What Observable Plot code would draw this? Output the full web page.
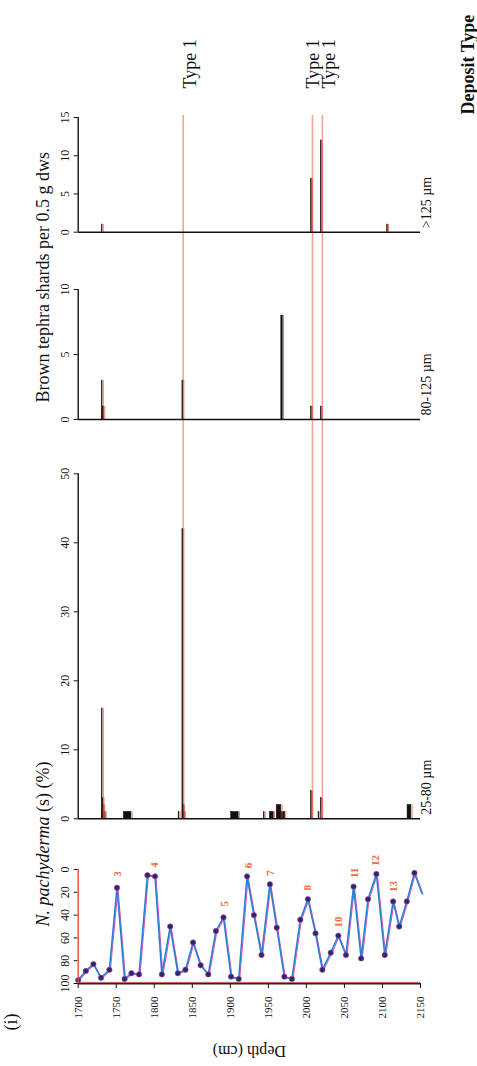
<!DOCTYPE html>
<html>
<head>
<meta charset="utf-8">
<script src="https://cdn.jsdelivr.net/npm/d3@7"></script>
<script src="https://cdn.jsdelivr.net/npm/@observablehq/plot@0.6"></script>
<style>
  body { margin: 0; background: #fff; }
  #chart { position: relative; width: 477px; height: 1066px; overflow: hidden; background: #fff; }
</style>
</head>
<body>
<div id="chart"></div>
<script>
// ---------- data ----------
const depthDomain = [1700, 2150];
const depthTicks = [1700, 1750, 1800, 1850, 1900, 1950, 2000, 2050, 2100, 2150];

// N. pachyderma (s) %
const npDepth = [1700,1710,1720,1730,1741,1751,1761,1770,1780,1791,1801,1810,1821,1831,1841,1851,1861,1871,1881,1891,1901,1911,1922,1931,1941,1952,1961,1971,1981,1992,2002,2012,2021,2032,2042,2052,2062,2072,2081,2092,2103,2114,2122,2132,2142,2152];
const npPct = [97,89,83,95,88,16,96,91,92,5,6,92,50,91,88,64,84,92,54,42,94,96,6,40,75,13,51,94,96,44,26,56,88,73,58,75,15,78,26,4,75,28,50,28,3,21];
const npTicks = [0, 20, 40, 60, 80, 100];

// numbered peaks
const peakNums = ["3","4","5","6","7","8","10","11","12","13"];
const peakDepth = [1752,1800,1892,1924,1953,2002,2042,2063,2091,2114];
const peakPct = [4,-4,30,-3.5,3,16,46,3,-8,15];

// brown tephra shards per 0.5 g dws
const shards25 = [
  {from:1731, to:1732, n:16}, {from:1732, to:1733, n:3}, {from:1733, to:1734, n:2},
  {from:1734, to:1736, n:1}, {from:1760, to:1770, n:1}, {from:1832, to:1833, n:1},
  {from:1837, to:1838, n:42}, {from:1838, to:1839, n:2}, {from:1839, to:1840, n:1},
  {from:1901, to:1911, n:1}, {from:1944, to:1945, n:1}, {from:1952, to:1957, n:1},
  {from:1961, to:1967, n:2}, {from:1967, to:1972, n:1}, {from:2006, to:2007, n:4},
  {from:2016, to:2017, n:1}, {from:2019, to:2020, n:3}, {from:2133, to:2138, n:2}
];
const shards80 = [
  {from:1731, to:1732, n:3}, {from:1732, to:1734, n:1}, {from:1837, to:1838, n:3},
  {from:1967, to:1969, n:8}, {from:2006, to:2007, n:1}, {from:2019, to:2020, n:1}
];
const shards125 = [
  {from:1731, to:1732, n:1}, {from:2006, to:2007, n:7}, {from:2019, to:2020, n:12},
  {from:2106, to:2107, n:1}
];
const ticks25 = [0, 10, 20, 30, 40, 50];
const ticks80 = [0, 5, 10];
const ticks125 = [0, 5, 10, 15];

// deposit types
const typeDepths = [1838, 2008, 2021];
const typeLabels = ["Type 1", "Type 1", "Type 1"];
const typeLabelDepths = [1838, 2000, 2021];

// ---------- layout ----------
const W = 477, H = 1066, ML = 77.7, MR = 57;
const FONT = "'Liberation Serif', 'DejaVu Serif', serif";
const svgStyle = {position: "absolute", left: "0px", top: "0px", background: "transparent",
  fontFamily: FONT, color: "#111", overflow: "visible"};
const fmt = d => String(d);
const chart = document.getElementById("chart");

// overlay: deposit-type lines, labels, shared title
const overlay = Plot.plot({
  width: W, height: H, marginLeft: ML, marginRight: MR, marginTop: 115, marginBottom: H - 818.3,
  style: svgStyle,
  x: {domain: depthDomain, axis: null},
  marks: [
    Plot.ruleX(typeDepths, {stroke: "#f6a493", strokeWidth: 1.6}),
    Plot.text(typeLabels, {x: typeLabelDepths, text: typeLabels, frameAnchor: "top", dy: -27,
      rotate: -90, textAnchor: "start", fontSize: 18, fill: "#111"}),
    Plot.text(["Deposit Type"], {text: d => d, frameAnchor: "top-right", dx: 41, dy: -1, rotate: -90,
      textAnchor: "start", fontSize: 18, fontWeight: "bold", fill: "#111"}),
    Plot.text(["Brown tephra shards per 0.5 g dws"], {text: d => d, frameAnchor: "left",
      dx: -34.7, dy: -64.6, rotate: -90, fontSize: 18, fill: "#111"})
  ]
});
chart.appendChild(overlay);

function tephraPanel(data, yMax, ticks, top, bottom, label) {
  return Plot.plot({
    width: W, height: H, marginLeft: ML, marginRight: MR, marginTop: top, marginBottom: H - bottom,
    style: svgStyle,
    x: {domain: depthDomain, axis: null, label: null},
    y: {domain: [0, yMax], label: null},
    marks: [
      Plot.axisY({ticks, tickSize: 4, tickRotate: -90, fontSize: 12, label: null, tickFormat: fmt}),
      Plot.rectY(data, {x1: "from", x2: "to", y: "n", fill: "#111", stroke: "#111", strokeWidth: 0.5}),
      Plot.ruleX(data, {x: "to", y1: 0, y2: "n", stroke: "#e4573f", strokeWidth: 0.8, dx: 0.7}),
      Plot.ruleX([depthDomain[0]], {stroke: "#111", strokeWidth: 1.4}),
      Plot.ruleY([0], {stroke: "#111", strokeWidth: 1.4}),
      Plot.text([label], {text: d => d, frameAnchor: "bottom-right", dx: 10, dy: -4, rotate: -90,
        textAnchor: "start", fontSize: 14, fill: "#111"})
    ]
  });
}

chart.appendChild(tephraPanel(shards125, 15, ticks125, 117, 231.7, ">125 µm"));
chart.appendChild(tephraPanel(shards80, 10, ticks80, 289, 419, "80-125 µm"));
chart.appendChild(tephraPanel(shards25, 50, ticks25, 473.3, 818.3, "25-80 µm"));

// N. pachyderma panel
const np = npDepth.map((d, i) => ({depth: d, pct: npPct[i]}));
const peaks = peakNums.map((t, i) => ({t, depth: peakDepth[i], pct: peakPct[i]}));
const npPlot = Plot.plot({
  width: W, height: H, marginLeft: ML, marginRight: MR, marginTop: 869, marginBottom: H - 983,
  style: svgStyle,
  x: {domain: depthDomain, label: null},
  y: {domain: [0, 100], reverse: true, label: null},
  marks: [
    Plot.axisY({ticks: npTicks, tickSize: 4, tickRotate: -90, fontSize: 12, label: null, tickFormat: fmt}),
    Plot.axisX({ticks: depthTicks, tickSize: 5, tickPadding: 8, tickRotate: -90, fontSize: 11, label: null, tickFormat: fmt}),
    Plot.line(np, {x: "depth", y: "pct", stroke: "#e64aae", strokeWidth: 1, dx: 1, dy: 0.7}),
    Plot.line(np, {x: "depth", y: "pct", stroke: "#2680d6", strokeWidth: 1.6}),
    Plot.dot(np.slice(0, -1), {x: "depth", y: "pct", r: 2.7, fill: "#262a6e", stroke: "#b8399a", strokeWidth: 0.6}),
    Plot.ruleY([100], {stroke: "#3b1c14", strokeWidth: 1.8}),
    Plot.ruleY([100], {stroke: "#e3502f", strokeWidth: 0.6, dy: -1.2}),
    Plot.ruleX([depthDomain[0]], {stroke: "#e3502f", strokeWidth: 1.4}),
    Plot.text(peaks, {x: "depth", y: "pct", text: "t", rotate: -90, fill: "#f26b3a", fontSize: 11, fontWeight: "bold"}),
    Plot.text(["N. pachyderma (s) (%)"], {text: d => d, frameAnchor: "left", dx: -34.7, rotate: -90, fontSize: 18, fill: "#111"}),
    Plot.text(["Depth (cm)"], {text: d => d, frameAnchor: "bottom", dy: 62, rotate: 180, fontSize: 16, fill: "#111"}),
    Plot.text(["(i)"], {text: d => d, frameAnchor: "bottom-left", dx: -60.7, dy: 47, rotate: -90, fontSize: 18, fill: "#111"})
  ]
});
chart.appendChild(npPlot);

// italic species name
d3.select(npPlot).selectAll("text").each(function() {
  if (this.textContent === "N. pachyderma (s) (%)") {
    const t = d3.select(this);
    t.text(null);
    t.append("tspan").attr("font-style", "italic").text("N. pachyderma");
    t.append("tspan").text(" (s) (%)");
  }
});
</script>
</body>
</html>
